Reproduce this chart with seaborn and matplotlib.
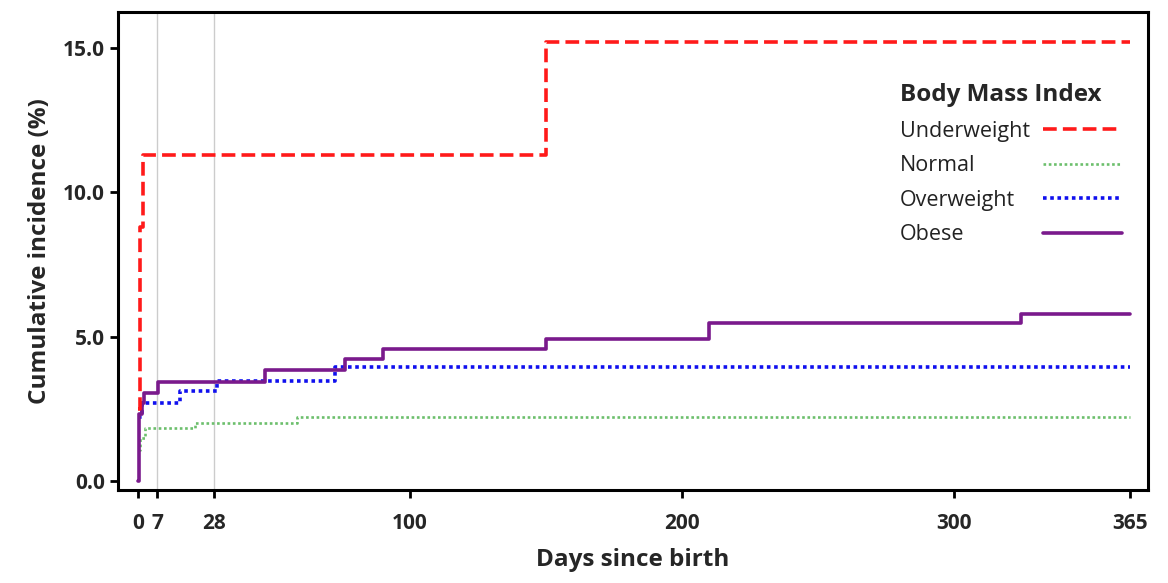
import numpy as np
import pandas as pd
import seaborn as sns
import matplotlib.pyplot as plt
from matplotlib.lines import Line2D

# step-function data (day, cumulative incidence %)
under_days = [0, 0.8, 1.8, 150, 365]
under_vals = [2.5, 8.8, 11.3, 15.2, 15.2]

normal_days = [0, 0.8, 2.6, 21, 58.5, 365]
normal_vals = [1.05, 1.5, 1.83, 2.0, 2.22, 2.22]

over_days = [0, 1.3, 15.5, 29, 72.5, 365]
over_vals = [2.2, 2.7, 3.1, 3.47, 3.95, 3.95]

obese_days = [0, 0.3, 1.5, 2, 7.4, 46.7, 76, 90, 150, 210, 325, 365]
obese_vals = [0.0, 2.3, 2.7, 3.05, 3.43, 3.85, 4.22, 4.57, 4.9, 5.47, 5.78, 5.78]

groups = ["Underweight", "Normal", "Overweight", "Obese"]
x_ticks = [0, 7, 28, 100, 200, 300, 365]
y_ticks = [0.0, 5.0, 10.0, 15.0]

frames = []
for g, d, v in zip(groups,
                   [under_days, normal_days, over_days, obese_days],
                   [under_vals, normal_vals, over_vals, obese_vals]):
    frames.append(pd.DataFrame({"day": d, "inc": v, "bmi": g}))
df = pd.concat(frames, ignore_index=True)

sns.set_theme(style="white")
plt.rcParams["font.family"] = ["Open Sans", "DejaVu Sans"]

styles = {
    "Underweight": dict(color="#ff1a1a", lw=2.6, dashes=(3.8, 1.7)),
    "Normal": dict(color="#6cbf6c", lw=1.9, dashes=(1.0, 1.0)),
    "Overweight": dict(color="#1010ee", lw=2.6, dashes=(1.0, 1.0)),
    "Obese": dict(color="#7a1a8c", lw=2.6, dashes=None),
}

fig = plt.figure(figsize=(11.68, 5.83), dpi=100)
ax = fig.add_axes([0.101, 0.16, 0.882, 0.819])

ax.axvline(7, color="#cccccc", lw=1, zorder=0)
ax.axvline(28, color="#cccccc", lw=1, zorder=0)

for g in ["Normal", "Overweight", "Obese", "Underweight"]:
    st = styles[g]
    sub = df[df["bmi"] == g]
    sns.lineplot(data=sub, x="day", y="inc", ax=ax, estimator=None,
                 drawstyle="steps-post", color=st["color"], linewidth=st["lw"])
    line = ax.lines[-1]
    if st["dashes"] is not None:
        line.set_dashes(st["dashes"])

handles = []
for g in groups:
    st = styles[g]
    h = Line2D([], [], color=st["color"], lw=st["lw"])
    if st["dashes"] is not None:
        h.set_dashes(st["dashes"])
    handles.append(h)

leg = ax.legend(handles, groups, title="Body Mass Index", loc="upper left",
                bbox_to_anchor=(0.74, 0.892), frameon=False, markerfirst=False,
                handlelength=3.7, fontsize=15.5, title_fontsize=17.5,
                labelspacing=0.63, alignment="left", handletextpad=0.6)
leg.get_title().set_fontweight("bold")
for t in leg.get_texts():
    t.set_color("#222222")

ax.set_xlim(-7.4, 371.6)
ax.set_ylim(-0.31, 16.24)
ax.set_xticks(x_ticks)
ax.set_xticklabels([str(t) for t in x_ticks])
ax.set_yticks(y_ticks)
ax.set_yticklabels([f"{t:.1f}" for t in y_ticks])
ax.tick_params(axis="both", direction="out", length=6, width=2,
               labelsize=15, color="black", bottom=True, left=True)
for lab in ax.get_xticklabels() + ax.get_yticklabels():
    lab.set_fontweight("bold")
ax.tick_params(axis="x", pad=11)

ax.set_xlabel("Days since birth", fontsize=17.5, fontweight="bold", labelpad=10)
ax.set_ylabel("Cumulative incidence (%)", fontsize=17.5, fontweight="bold", labelpad=8)

for s in ax.spines.values():
    s.set_color("black")
    s.set_linewidth(2.2)
    s.set_visible(True)

# left-align legend labels while keeping the line samples in one column
fig.canvas.draw()
renderer = fig.canvas.get_renderer()
widths = [t.get_window_extent(renderer).width for t in leg.get_texts()]
maxw = max(widths)
px_per_pt = fig.dpi / 72.0
for col in leg._legend_handle_box.get_children():
    col.align = "left"
    for row, w in zip(col.get_children(), widths):
        row.sep = row.sep + (maxw - w) / px_per_pt

fig.savefig("out.png", dpi=100)
